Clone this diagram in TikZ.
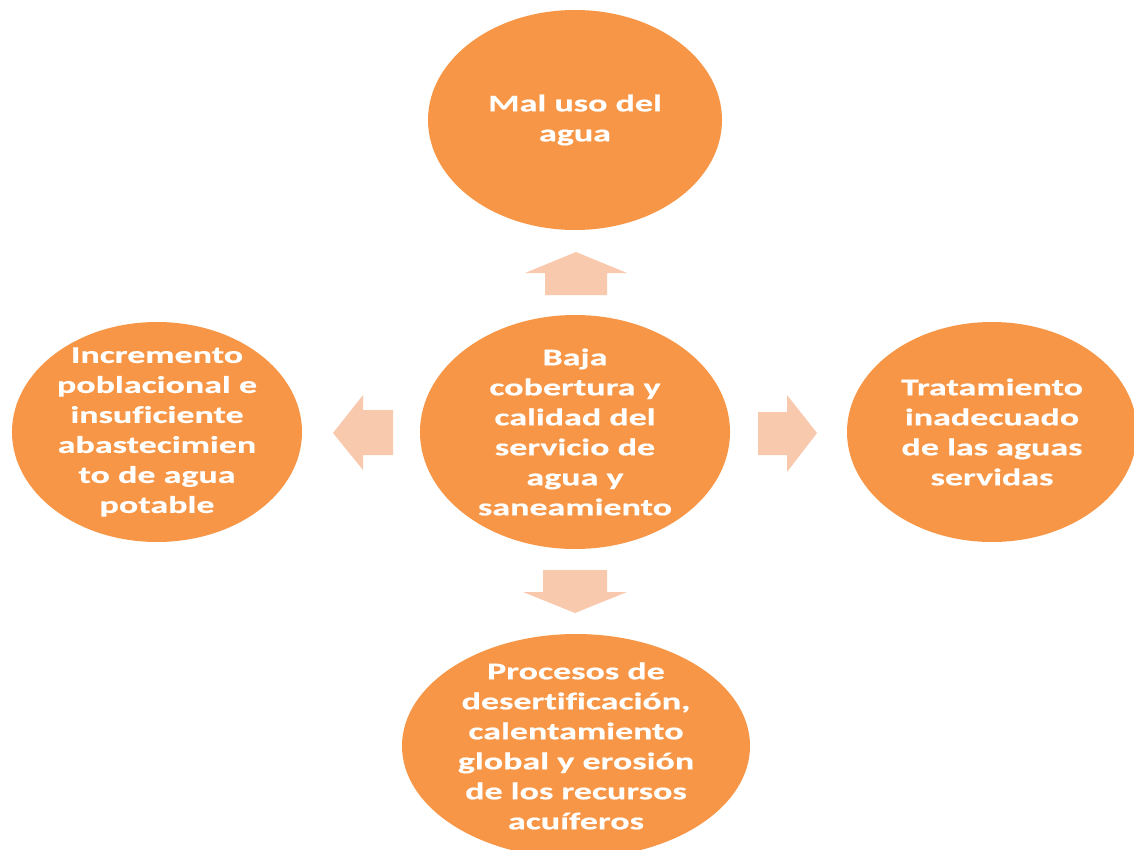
\documentclass[tikz,border=0pt]{standalone}
\usepackage{fontspec}
\setmainfont[FakeStretch=1.5, Ligatures=NoCommon, BoldFeatures={FakeBold=0.5}]{Carlito}
\usetikzlibrary{shapes.geometric}
\definecolor{blobfill}{HTML}{F79646}
\definecolor{arrowfill}{HTML}{F9C9AE}
\tikzset{
  blob/.style={ellipse, fill=blobfill, draw=none, inner sep=0pt},
  lbl/.style={text=white, align=center, font=\bfseries\fontsize{24}{30}\selectfont, inner sep=0pt},
  blockarrow/.style={fill=arrowfill, draw=none}
}
\begin{document}
\begin{tikzpicture}[x=1pt, y=-1pt]
\useasboundingbox (0,0) rectangle (1134,850);
\clip (0,0) rectangle (1134,850);
% ellipses
\node[blob, minimum width=294pt, minimum height=220pt] (top) at (575,120) {};
\node[blob, minimum width=310pt, minimum height=234pt] (mid) at (575,432) {};
\node[blob, minimum width=290pt, minimum height=220pt] (left) at (157,432) {};
\node[blob, minimum width=290pt, minimum height=220pt] (right) at (992,432) {};
\node[blob, minimum width=348pt, minimum height=224pt] (bot) at (576,746) {};
% labels
\node[lbl] (toptxt) at (top) {Mal uso del\\agua};
\node[lbl] (midtxt) at (mid) {Baja\\cobertura y\\calidad del\\servicio de\\agua y\\saneamiento};
\node[lbl] (lefttxt) at (left) {Incremento\\poblacional e\\insuficiente\\abastecimien\\to de agua\\potable};
\node[lbl] (righttxt) at (right) {Tratamiento\\inadecuado\\de las aguas\\servidas};
\node[lbl] (bottxt) at (bot) {Procesos de\\desertificación,\\calentamiento\\global y erosión\\de los recursos\\acuíferos};
% block arrows
\fill[blockarrow] (545,295) -- (545,273) -- (525,273) -- (576,252) -- (627,273) -- (607,273) -- (607,295) -- cycle;
\fill[blockarrow] (543,570) -- (543,592) -- (523,592) -- (575,613) -- (627,592) -- (607,592) -- (607,570) -- cycle;
\fill[blockarrow] (393,410) -- (363,410) -- (363,395) -- (333,433) -- (363,470) -- (363,455) -- (393,455) -- cycle;
\fill[blockarrow] (758,412) -- (787,412) -- (787,395) -- (817,433) -- (787,472) -- (787,455) -- (758,455) -- cycle;
\end{tikzpicture}
\end{document}
